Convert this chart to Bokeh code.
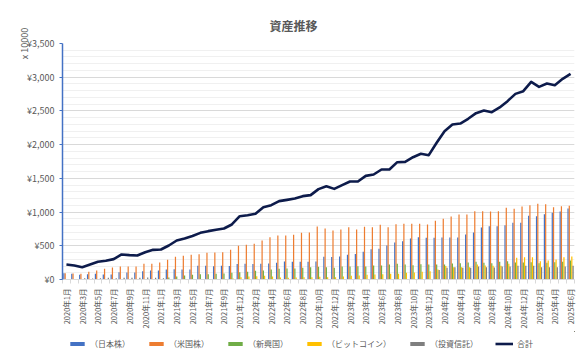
from math import pi
from bokeh.plotting import figure
from bokeh.layouts import column
from bokeh.models import ColumnDataSource, Range1d, FixedTicker, Legend, LegendItem
from bokeh.transform import dodge
from bokeh.embed import file_html
from bokeh.resources import INLINE

months = [
    "2020年1月", "2020年2月", "2020年3月", "2020年4月", "2020年5月", "2020年6月",
    "2020年7月", "2020年8月", "2020年9月", "2020年10月", "2020年11月", "2020年12月",
    "2021年1月", "2021年2月", "2021年3月", "2021年4月", "2021年5月", "2021年6月",
    "2021年7月", "2021年8月", "2021年9月", "2021年10月", "2021年12月",
    "2022年1月", "2022年2月", "2022年3月", "2022年4月", "2022年5月", "2022年6月",
    "2022年7月", "2022年8月", "2022年9月", "2022年10月", "2022年11月", "2022年12月",
    "2023年1月", "2023年2月", "2023年3月", "2023年4月", "2023年5月", "2023年6月",
    "2023年7月", "2023年8月", "2023年9月", "2023年10月", "2023年11月", "2023年12月",
    "2024年1月", "2024年2月", "2024年3月", "2024年4月", "2024年5月", "2024年6月",
    "2024年7月", "2024年8月", "2024年9月", "2024年10月", "2024年11月", "2024年12月",
    "2025年1月", "2025年2月", "2025年3月", "2025年4月", "2025年5月", "2025年6月",
]

japan = [94, 84, 69, 79, 84, 74, 74, 109, 104, 104,
         124, 133, 133, 148, 153, 148, 150, 203, 203, 198,
         203, 200, 230, 232, 230, 232, 238, 247, 267, 265,
         262, 265, 267, 336, 334, 340, 366, 378, 412, 448,
         455, 504, 549, 568, 608, 628, 618, 618, 623, 623,
         623, 667, 697, 771, 791, 791, 806, 840, 840, 944,
         939, 969, 989, 1008, 1053]

usa = [94, 89, 84, 114, 133, 158, 178, 193, 193, 193,
       232, 232, 252, 292, 336, 351, 366, 376, 395, 400,
       405, 440, 499, 514, 529, 578, 628, 652, 652, 662,
       692, 697, 786, 758, 727, 741, 776, 741, 781, 776,
       811, 776, 821, 825, 825, 825, 816, 870, 900, 934,
       964, 964, 1013, 1013, 1008, 1013, 1063, 1048, 1083, 1102,
       1122, 1117, 1073, 1087, 1092]

emerging = [0, 0, 0, 0, 0, 0, 0, 0, 0, 0,
            0, 0, 0, 30, 45, 59, 72, 79, 79, 84,
            89, 99, 109, 114, 129, 133, 148, 158, 163, 163,
            173, 183, 188, 183, 173, 193, 193, 198, 193, 208,
            208, 222, 232, 222, 213, 227, 222, 222, 222, 237,
            242, 252, 262, 247, 242, 262, 272, 252, 252, 257,
            242, 247, 257, 262, 282]

bitcoin = [0, 0, 0, 0, 0, 0, 0, 0, 0, 0,
           0, 0, 0, 0, 0, 0, 0, 0, 0, 0,
           0, 15, 35, 44, 49, 54, 44, 30, 25, 30,
           35, 35, 40, 35, 35, 44, 54, 59, 69, 74,
           79, 84, 84, 99, 104, 114, 124, 150, 200, 180,
           180, 183, 222, 208, 203, 203, 232, 321, 331, 331,
           272, 282, 297, 331, 341]

fund = [0, 0, 20, 15, 20, 25, 20, 25, 25, 25,
        30, 25, 20, 0, 0, 0, 0, 0, 0, 0,
        0, 0, 0, 0, 0, 0, 0, 0, 0, 0,
        0, 0, 0, 0, 0, 0, 0, 0, 0, 0,
        0, 0, 0, 0, 0, 0, 0, 140, 173, 183,
        173, 173, 193, 183, 178, 193, 193, 203, 203, 203,
        183, 183, 183, 193, 203]

total = [222, 208, 183, 222, 262, 277, 302, 371, 361, 356,
         405, 440, 445, 504, 578, 608, 645, 692, 717, 737,
         756, 816, 939, 954, 974, 1073, 1102, 1162, 1181, 1201,
         1236, 1251, 1340, 1384, 1344, 1399, 1453, 1453, 1537, 1557,
         1631, 1631, 1740, 1745, 1814, 1864, 1844, 2027, 2200, 2298,
         2313, 2383, 2467, 2506, 2481, 2551, 2645, 2753, 2793, 2931,
         2857, 2906, 2882, 2976, 3050]

series_labels = ["（日本株）", "（米国株）", "（新興国）", "（ビットコイン）", "（投資信託）"]
total_label = "合計"
y_ticks = [0, 500, 1000, 1500, 2000, 2500, 3000, 3500]
y_tick_labels = ["¥0", "¥500", "¥1,000", "¥1,500", "¥2,000", "¥2,500", "¥3,000", "¥3,500"]

FONT = "Noto Sans CJK JP"
TXT = "#595959"
colors = ["#4472C4", "#ED7D31", "#70AD47", "#FFC000", "#7F7F7F"]
NAVY = "#0D1B4B"
cols = ["japan", "usa", "emerging", "bitcoin", "fund"]
offsets = [-0.32, -0.16, 0.0, 0.16, 0.32]

n = len(months)
idx = list(range(n))
src = ColumnDataSource(dict(x=idx, japan=japan, usa=usa, emerging=emerging,
                            bitcoin=bitcoin, fund=fund, total=total))

p = figure(width=584, height=331, x_range=Range1d(-0.5, n - 0.5), y_range=Range1d(0, 3500),
           output_backend="svg", toolbar_location=None,
           min_border_left=62, min_border_right=10, min_border_top=43, min_border_bottom=52)
p.outline_line_color = None
p.background_fill_color = "white"
p.border_fill_color = "white"

p.title.text = "資産推移"
p.title.align = "left"
p.title.offset = 207
p.title.text_font = FONT
p.title.text_font_size = "12px"
p.title.text_font_style = "bold"
p.title.text_color = TXT
p.title.standoff = 20

for col, color, off in zip(cols, colors, offsets):
    p.vbar(x=dodge("x", off), top=col, bottom=0, width=0.155, source=src,
           fill_color=color, line_color=None)
p.line("x", "total", source=src, line_color=NAVY, line_width=2.6, line_join="round")

# axes
xa = p.xaxis[0]
xa.axis_label = None
xa.ticker = FixedTicker(ticks=idx[::2], minor_ticks=[i - 0.5 for i in range(n + 1)])
xa.major_label_overrides = {i: months[i] for i in idx[::2]}
xa.major_label_orientation = pi / 2
xa.major_label_text_font = FONT
xa.major_label_text_font_size = "7.5px"
xa.major_label_text_color = TXT
xa.major_label_standoff = 5
xa.axis_line_color = "#D9D9D9"
xa.major_tick_line_color = None
xa.major_tick_out = 0
xa.major_tick_in = 0
xa.minor_tick_line_color = "#D9D9D9"
xa.minor_tick_in = 0
xa.minor_tick_out = 4

ya = p.yaxis[0]
ya.ticker = FixedTicker(ticks=y_ticks, minor_ticks=list(range(0, 3501, 100)))
ya.major_label_overrides = {v: s for v, s in zip(y_ticks, y_tick_labels)}
ya.major_label_text_font = FONT
ya.major_label_text_font_size = "9px"
ya.major_label_text_color = TXT
ya.major_label_standoff = 4
ya.axis_line_color = "#4472C4"
ya.axis_line_width = 1.5
ya.major_tick_line_color = "#4472C4"
ya.major_tick_in = 0
ya.major_tick_out = 3
ya.minor_tick_line_color = None
ya.axis_label = "x 10000"
ya.axis_label_align = "end"
ya.axis_label_standoff = -7
ya.axis_label_text_font = FONT
ya.axis_label_text_font_size = "9px"
ya.axis_label_text_font_style = "normal"
ya.axis_label_text_color = TXT

p.xgrid.grid_line_color = None
p.ygrid.grid_line_color = "#D9D9D9"
p.ygrid.minor_grid_line_color = "#F0F0F0"

# legend strip underneath: same series, ranges chosen so no mark falls inside it
lg = figure(width=584, height=24, x_range=Range1d(-30, -20), y_range=Range1d(-30, -20),
            output_backend="svg", toolbar_location=None,
            x_axis_location=None, y_axis_location=None, min_border=0)
lg.outline_line_color = None
lg.grid.visible = False
lg.background_fill_color = "white"
lg.border_fill_color = "white"
items = []
for lab, col, color in zip(series_labels, cols, colors):
    r = lg.vbar(x="x", top=col, bottom=0, width=0.155, source=src,
                fill_color=color, line_color=None)
    items.append(LegendItem(label=lab, renderers=[r]))
rl = lg.line("x", "total", source=src, line_color=NAVY, line_width=2.6)
items.append(LegendItem(label=total_label, renderers=[rl]))
legend = Legend(items=items, orientation="horizontal", location=(6, 6),
                label_text_font=FONT, label_text_font_size="8px", label_text_color=TXT,
                glyph_width=18, glyph_height=5, label_height=10, label_standoff=4,
                spacing=17, padding=1, margin=0, border_line_color=None,
                background_fill_alpha=0)
lg.add_layout(legend)

layout = column(p, lg, spacing=0)
open("out.html", "w").write(file_html(layout, INLINE))
